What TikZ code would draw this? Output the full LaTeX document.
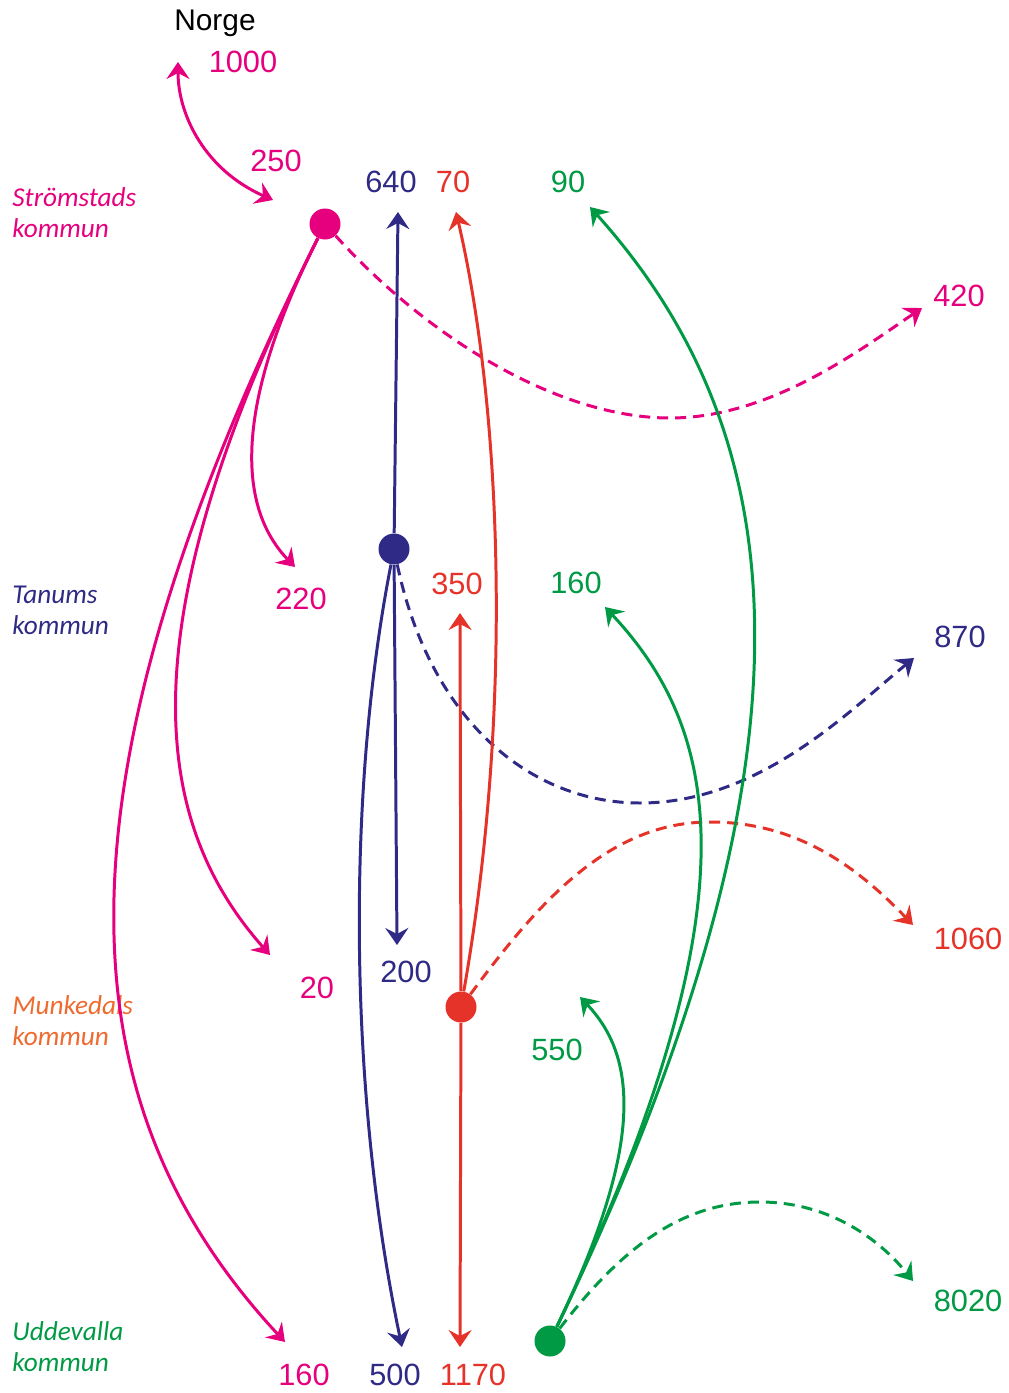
\documentclass[tikz,border=0pt]{standalone}
\usepackage{fontspec}
\setmainfont{Liberation Sans}
\newfontfamily\kommunfont{Carlito}
\usetikzlibrary{arrows.meta}
\definecolor{strom}{HTML}{E6007E}
\definecolor{tanum}{HTML}{2E2A85}
\definecolor{munk}{HTML}{E6332A}
\definecolor{munkname}{HTML}{EE6A2F}
\definecolor{udde}{HTML}{009A44}
\tikzset{
  flow/.style={line width=1.7pt,-{Stealth[length=3.4mm,width=4.6mm,inset=1.2mm]}},
  twoway/.style={line width=1.7pt,{Stealth[length=3.4mm,width=4.6mm,inset=1.2mm]}-{Stealth[length=3.4mm,width=4.6mm,inset=1.2mm]}},
  abroad/.style={flow,dash pattern=on 2.2mm off 1.4mm},
  kdot/.style={circle,inner sep=0pt,minimum size=6.2mm},
  num/.style={inner sep=0pt,font=\fontsize{17.5}{20}\selectfont},
  kommun/.style={inner sep=0pt,anchor=base west,align=left,font=\kommunfont\itshape\fontsize{15.5}{17.6}\selectfont}
}
\begin{document}
\begin{tikzpicture}[x=0.2mm,y=-0.2mm]
\useasboundingbox (0,0) rectangle (1008,1393);
\node[kdot,fill=strom] (strom) at (325,224) {};
\node[kdot,fill=tanum] (tanum) at (394,549) {};
\node[kdot,fill=munk] (munk) at (461,1007) {};
\node[kdot,fill=udde] (udde) at (550,1341) {};

\node[kommun,text=strom] (stromname) at (12,237) {Strömstads\\kommun};
\node[kommun,text=tanum] (tanumname) at (12,634) {Tanums\\kommun};
\node[kommun,text=munkname] (munkname) at (12,1045) {Munkedals\\kommun};
\node[kommun,text=udde] (uddename) at (12,1371) {Uddevalla\\kommun};

\node[anchor=base,inner sep=0pt,font=\fontsize{17}{20}\selectfont] (norge) at (215,30) {Norge};
\node[num,text=strom] (s1000) at (243,62) {1000};
\node[num,text=strom] (s250) at (276,161) {250};
\node[num,text=strom] (s220) at (301,599) {220};
\node[num,text=strom] (s20) at (317,988) {20};
\node[num,text=strom] (s160) at (304,1375) {160};
\node[num,text=strom] (s420) at (959,296) {420};
\node[num,text=tanum] (t640) at (391,182) {640};
\node[num,text=tanum] (t200) at (406,972) {200};
\node[num,text=tanum] (t500) at (395,1375) {500};
\node[num,text=tanum] (t870) at (960,637) {870};
\node[num,text=munk] (m70) at (453,182) {70};
\node[num,text=munk] (m350) at (457,584) {350};
\node[num,text=munk] (m1170) at (473,1375) {1170};
\node[num,text=munk] (m1060) at (968,939) {1060};
\node[num,text=udde] (u90) at (568,182) {90};
\node[num,text=udde] (u160) at (576,583) {160};
\node[num,text=udde] (u550) at (557,1050) {550};
\node[num,text=udde] (u8020) at (968,1301) {8020};

\coordinate (norgetip) at (178,62);
\coordinate (stromtip) at (273,200);
\coordinate (s220tip) at (295,567);
\coordinate (s20tip) at (270,955);
\coordinate (s160tip) at (285,1342);
\coordinate (s420tip) at (922,308);
\coordinate (t640tip) at (398,212);
\coordinate (t200tip) at (397,945);
\coordinate (t500tip) at (402,1347);
\coordinate (t870tip) at (914,658);
\coordinate (m70tip) at (456,212);
\coordinate (m350tip) at (460,613);
\coordinate (m1170tip) at (460,1347);
\coordinate (m1060tip) at (913,925);
\coordinate (u90tip) at (590,207);
\coordinate (u160tip) at (605,607);
\coordinate (u550tip) at (580,997);
\coordinate (u8020tip) at (913,1281);

\draw[twoway,strom] (norgetip) .. controls (178,115) and (205,170) .. (stromtip);
\draw[flow,strom] (strom) .. controls (230,413) and (240,510) .. (s220tip);
\draw[flow,strom] (strom) .. controls (125,624) and (150,820) .. (s20tip);
\draw[flow,strom] (strom) .. controls (45,784) and (60,1100) .. (s160tip);
\draw[abroad,strom] (strom) .. controls (430,340) and (560,418) .. (670,418) .. controls (770,418) and (860,350) .. (s420tip);

\draw[flow,tanum] (tanum) -- (t640tip);
\draw[flow,tanum] (tanum) -- (t200tip);
\draw[flow,tanum] (tanum) .. controls (345,800) and (350,1100) .. (t500tip);
\draw[abroad,tanum] (tanum) .. controls (430,720) and (530,803) .. (640,803) .. controls (760,803) and (850,710) .. (t870tip);

\draw[flow,munk] (munk) .. controls (515,700) and (500,400) .. (m70tip);
\draw[flow,munk] (munk) -- (m350tip);
\draw[flow,munk] (munk) -- (m1170tip);
\draw[abroad,munk] (munk) .. controls (540,900) and (610,822) .. (710,822) .. controls (800,822) and (860,870) .. (m1060tip);

\draw[flow,udde] (udde) .. controls (838,741) and (790,430) .. (u90tip);
\draw[flow,udde] (udde) .. controls (760,900) and (720,730) .. (u160tip);
\draw[flow,udde] (udde) .. controls (641,1151) and (640,1060) .. (u550tip);
\draw[abroad,udde] (udde) .. controls (620,1250) and (680,1202) .. (760,1202) .. controls (830,1202) and (880,1240) .. (u8020tip);
\end{tikzpicture}
\end{document}
